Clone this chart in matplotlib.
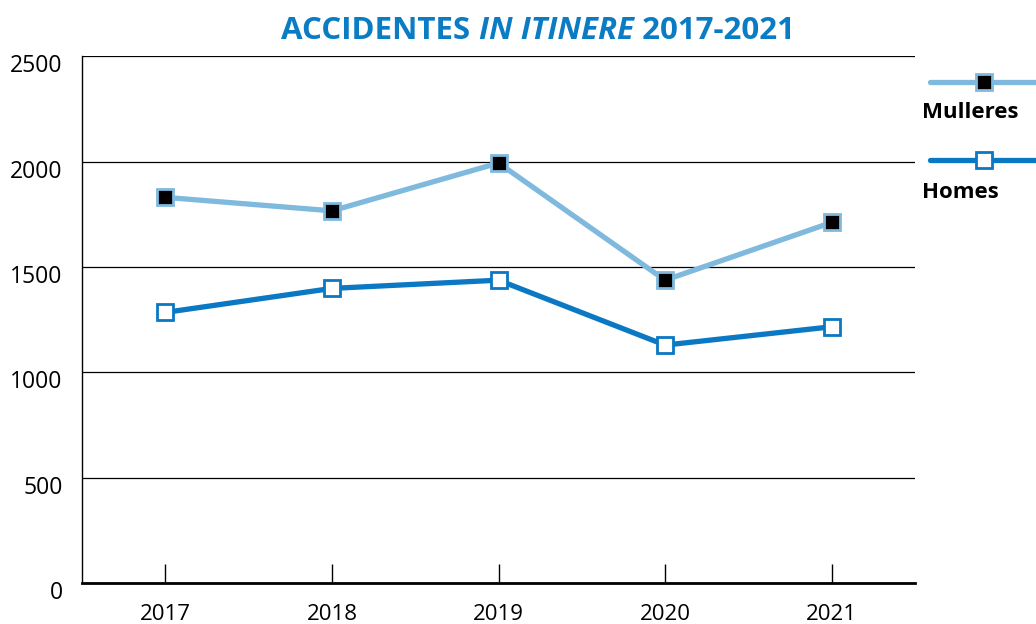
import matplotlib
matplotlib.use("Agg")
import matplotlib.pyplot as plt
from matplotlib.lines import Line2D
from matplotlib.transforms import ScaledTranslation

plt.rcParams['font.family'] = ['Open Sans', 'DejaVu Sans']

years = [2017, 2018, 2019, 2020, 2021]
mulleres = [1830, 1766, 1993, 1437, 1711]
homes = [1284, 1398, 1437, 1129, 1216]
yticks = [0, 500, 1000, 1500, 2000, 2500]

c_mul = '#7fb9de'
c_hom = '#0a78c3'
c_title = '#0a7cc4'

fig = plt.figure(figsize=(10.36, 6.24), dpi=100)
ax = fig.add_axes([0.0792, 0.0657, 0.804, 0.8443])

ax.plot(years, mulleres, color=c_mul, lw=3.8, marker='s', ms=11,
        mfc='black', mec=c_mul, mew=2, zorder=3)
ax.plot(years, homes, color=c_hom, lw=3.8, marker='s', ms=11,
        mfc='white', mec=c_hom, mew=2, zorder=3)

ax.set_xlim(2016.5, 2021.5)
ax.set_ylim(0, 2500)
ax.set_yticks(yticks)
ax.set_xticks(years)
ax.set_xticklabels([str(y) for y in years])
for t in yticks:
    ax.axhline(t, color='black', lw=0.9, zorder=1)

for s in ['top', 'right']:
    ax.spines[s].set_visible(False)
ax.spines['left'].set_linewidth(1.0)
ax.spines['bottom'].set_linewidth(2.0)

ax.tick_params(axis='x', direction='in', length=14, width=1, pad=15,
               labelsize=16)
ax.tick_params(axis='y', length=0, pad=14, labelsize=16.5)
off = ScaledTranslation(0, -0.07, fig.dpi_scale_trans)
for lab in ax.get_yticklabels():
    lab.set_transform(lab.get_transform() + off)

# Title with italic part, centred as a whole
fig.canvas.draw()
r = fig.canvas.get_renderer()
parts = [('ACCIDENTES ', 'normal'), ('IN ITINERE', 'italic'), (' 2017-2021', 'normal')]
texts = []
x = 0.0
for txt, st in parts:
    t = fig.text(x, 0.951, txt, color=c_title, fontsize=22.5,
                 fontweight='bold', fontstyle=st, ha='left', va='center')
    bb = t.get_window_extent(r)
    texts.append(t)
    x = bb.x1 / fig.bbox.width
total = x
start = 538.0 / 1036.0 - total / 2
for t in texts:
    px, py = t.get_position()
    t.set_position((px + start, py))

# Legend (manual)
W, H = 1036.0, 624.0
for ypix, col, mfc, lab, lypix in [(82, c_mul, 'black', 'Mulleres', 113),
                                    (160, c_hom, 'white', 'Homes', 192)]:
    fig.add_artist(Line2D([930 / W, 1.02], [1 - ypix / H, 1 - ypix / H],
                          transform=fig.transFigure, color=col, lw=3.8,
                          solid_capstyle='round'))
    fig.add_artist(Line2D([984 / W], [1 - ypix / H], transform=fig.transFigure,
                          marker='s', ms=11, mfc=mfc, mec=col, mew=2, lw=0))
    fig.text(922 / W, 1 - lypix / H, lab, fontsize=16, fontweight='bold',
             ha='left', va='center', color='black')

fig.savefig('out.png', dpi=100)
